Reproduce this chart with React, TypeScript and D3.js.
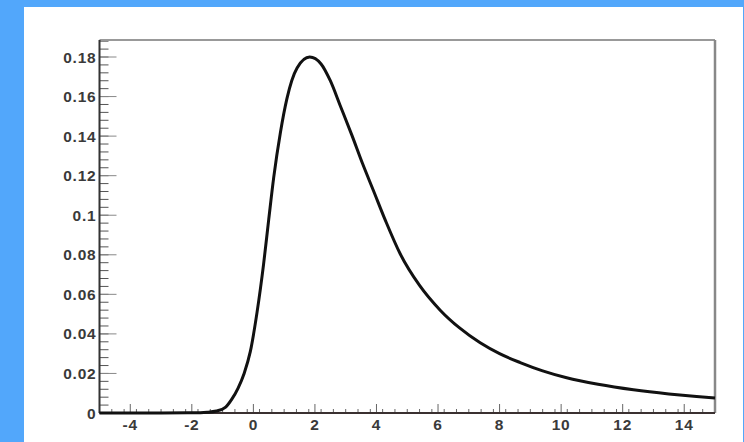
import React from "react";
import * as d3 from "d3";

const curveX = [-5, -3, -2, -1.5, -1.2, -0.9, -0.7, -0.5, -0.3, -0.1, 0.12, 0.33, 0.5, 0.66, 0.88, 1.09, 1.42, 1.83, 2.2, 2.5, 2.82, 3.2, 3.55, 3.9, 4.3, 4.77, 5.4, 6.07, 6.7, 7.37, 8.0, 8.67, 9.4, 10.18, 11.2, 12.35, 13.5, 14.4, 15];
const curveY = [0, 0, 0.0001, 0.0004, 0.001, 0.003, 0.007, 0.0125, 0.02, 0.031, 0.051, 0.075, 0.098, 0.119, 0.142, 0.159, 0.1745, 0.18, 0.1765, 0.168, 0.1555, 0.1405, 0.126, 0.1125, 0.097, 0.0805, 0.0645, 0.052, 0.043, 0.0355, 0.030, 0.0255, 0.0213, 0.0178, 0.0145, 0.0117, 0.0096, 0.0083, 0.0076];

const yTickValues = [0, 0.02, 0.04, 0.06, 0.08, 0.1, 0.12, 0.14, 0.16, 0.18];
const yTickLabels = ["0", "0.02", "0.04", "0.06", "0.08", "0.1", "0.12", "0.14", "0.16", "0.18"];
const xTickValues = [-4, -2, 0, 2, 4, 6, 8, 10, 12, 14];
const xTickLabels = ["-4", "-2", "0", "2", "4", "6", "8", "10", "12", "14"];

const xDomain = [-5, 15];
const yDomain = [0, 0.1886];

export default function App() {
  const W = 744, H = 442;
  const left = 99.5, right = 715, top = 40, bottom = 413;
  const x = d3.scaleLinear().domain(xDomain).range([left, right]);
  const y = d3.scaleLinear().domain(yDomain).range([bottom, top]);

  const pts = curveX.map((v, i) => [v, curveY[i]] as [number, number]);
  const line = d3.line<[number, number]>()
    .x(d => x(d[0]))
    .y(d => y(d[1]))
    .curve(d3.curveMonotoneX);

  const yMinor = d3.range(0, 0.1886, 0.004);
  const xMinor = d3.range(-5, 15.001, 0.4);

  const font = "'Liberation Sans', Arial, sans-serif";

  return (
    <svg width={W} height={H} style={{ position: "absolute", left: 0, top: 0 }}>
      <rect x={0} y={0} width={W} height={H} fill="#52a7fb" />
      <rect x={24} y={7} width={719} height={H - 7} fill="#ffffff" />

      {yMinor.map((v, i) => (
        <line key={"ym" + i} x1={left} x2={left + 9} y1={y(v)} y2={y(v)} stroke="#555" strokeWidth={1} />
      ))}
      {yTickValues.map((v, i) => (
        <line key={"yM" + i} x1={left} x2={left + 17} y1={y(v)} y2={y(v)} stroke="#888" strokeWidth={1} />
      ))}
      {xMinor.map((v, i) => (
        <line key={"xm" + i} x1={x(v)} x2={x(v)} y1={bottom} y2={bottom - 4} stroke="#666" strokeWidth={1} />
      ))}
      {xTickValues.map((v, i) => (
        <line key={"xM" + i} x1={x(v)} x2={x(v)} y1={bottom} y2={bottom - 9} stroke="#666" strokeWidth={1} />
      ))}

      <line x1={left} x2={right} y1={top} y2={top} stroke="#999" strokeWidth={2} />
      <line x1={right} x2={right} y1={top} y2={bottom} stroke="#888" strokeWidth={2.5} />
      <line x1={left} x2={left} y1={top} y2={bottom} stroke="#333" strokeWidth={2} />
      <line x1={left} x2={right} y1={bottom} y2={bottom} stroke="#3a3030" strokeWidth={2} />

      <path d={line(pts) || ""} fill="none" stroke="#111" strokeWidth={3} strokeLinejoin="round" />

      {yTickValues.map((v, i) => (
        <text key={"yl" + i} x={left - 3} y={y(v)} dy="0.36em" textAnchor="end"
          fontFamily={font} fontWeight="bold" fontSize={15.5} fill="#3a3a3a" letterSpacing={0.8}>
          {yTickLabels[i]}
        </text>
      ))}
      {xTickValues.map((v, i) => (
        <text key={"xl" + i} x={x(v)} y={424} dy="0.36em" textAnchor="middle"
          fontFamily={font} fontWeight="bold" fontSize={15.5} fill="#3a3a3a" letterSpacing={0.8}>
          {xTickLabels[i]}
        </text>
      ))}
    </svg>
  );
}
